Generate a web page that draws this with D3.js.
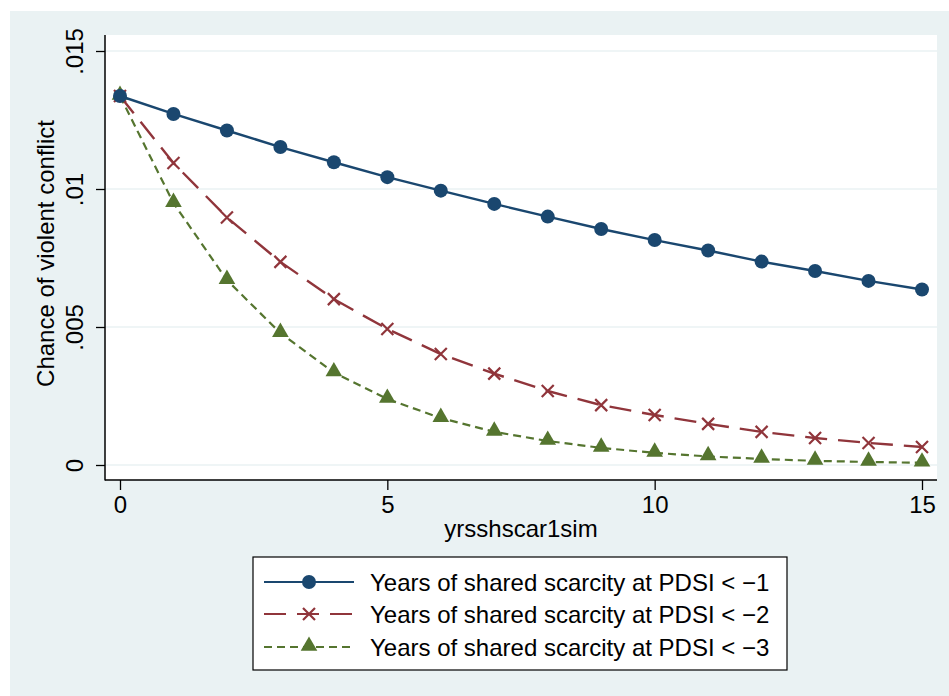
<!DOCTYPE html>
<html>
<head>
<meta charset="utf-8">
<script src="https://cdn.jsdelivr.net/npm/d3@7"></script>
<style>
  html, body { margin: 0; padding: 0; background: #ffffff; }
  svg { display: block; font-family: "Liberation Sans", Arial, sans-serif; }
</style>
</head>
<body>
<svg id="chart" width="949" height="696"></svg>
<script>
// Years of shared scarcity (simulated)
const years = [0, 1, 2, 3, 4, 5, 6, 7, 8, 9, 10, 11, 12, 13, 14, 15];

// Predicted chance of violent conflict, by drought threshold
const pdsi1 = [0.01337, 0.01272, 0.01212, 0.01152, 0.01097, 0.01043, 0.00994, 0.00946,
               0.00900, 0.00855, 0.00815, 0.00777, 0.00737, 0.00703, 0.00667, 0.00636];
const pdsi2 = [0.01337, 0.01094, 0.00897, 0.00736, 0.00601, 0.00493, 0.00402, 0.00331,
               0.00268, 0.00217, 0.00181, 0.00149, 0.00120, 0.00098, 0.00080, 0.00065];
const pdsi3 = [0.01337, 0.00949, 0.00670, 0.00478, 0.00335, 0.00239, 0.00170, 0.00120,
               0.00087, 0.00062, 0.00044, 0.00031, 0.00022, 0.00015, 0.00011, 0.00008];

const seriesLabels = [
  "Years of shared scarcity at PDSI < \u22121",
  "Years of shared scarcity at PDSI < \u22122",
  "Years of shared scarcity at PDSI < \u22123"
];

const xTicks = [0, 5, 10, 15];
const yTicks = [0, 0.005, 0.01, 0.015];
const yTickLabels = ["0", ".005", ".01", ".015"];

const xTitle = "yrsshscar1sim";
const yTitle = "Chance of violent conflict";

const svg = d3.select("#chart");
const W = 949, H = 696;
const FS = 24;

// Graph region background
svg.append("rect").attr("x", 10).attr("y", 11).attr("width", W - 10).attr("height", H - 11)
  .attr("fill", "#eaf2f3");

const plot = { left: 105, right: 937, top: 35, bottom: 480 };

svg.append("rect")
  .attr("x", plot.left).attr("y", plot.top)
  .attr("width", plot.right - plot.left).attr("height", plot.bottom - plot.top)
  .attr("fill", "#ffffff");

const x = d3.scaleLinear().domain([0, 15]).range([120, 922]);
const y = d3.scaleLinear().domain([0, 0.015]).range([465, 51]);

// Horizontal gridlines
svg.append("g").selectAll("line").data(yTicks).join("line")
  .attr("x1", plot.left).attr("x2", plot.right)
  .attr("y1", d => y(d)).attr("y2", d => y(d))
  .attr("stroke", "#eaf2f3").attr("stroke-width", 1.6);

// Y axis
const yAxis = d3.axisLeft(y).tickValues(yTicks)
  .tickFormat((d, i) => yTickLabels[i]).tickSize(9).tickPadding(0);
const gy = svg.append("g").attr("transform", `translate(${plot.left},0)`).call(yAxis);
gy.select(".domain").remove();
gy.append("line").attr("x1", 0).attr("x2", 0).attr("y1", plot.top).attr("y2", plot.bottom + 0.5)
  .attr("stroke", "#000").attr("stroke-width", 1.5);
gy.selectAll(".tick line").attr("stroke", "#000").attr("stroke-width", 1.3);
gy.selectAll(".tick text")
  .attr("x", null).attr("dy", null)
  .attr("transform", "translate(-22,0) rotate(-90)")
  .attr("text-anchor", "middle")
  .attr("fill", "#000").attr("font-size", FS)
  .style("font-family", "'Liberation Sans', Arial, sans-serif");

// X axis
const xAxis = d3.axisBottom(x).tickValues(xTicks).tickFormat(d3.format("d"))
  .tickSize(10).tickPadding(0);
const gx = svg.append("g").attr("transform", `translate(0,${plot.bottom})`).call(xAxis);
gx.select(".domain").remove();
gx.append("line").attr("x1", plot.left).attr("x2", plot.right).attr("y1", 0).attr("y2", 0)
  .attr("stroke", "#000").attr("stroke-width", 1.5);
gx.selectAll(".tick line").attr("stroke", "#000").attr("stroke-width", 1.3);
gx.selectAll(".tick text")
  .attr("y", 33).attr("dy", null)
  .attr("fill", "#000").attr("font-size", FS)
  .style("font-family", "'Liberation Sans', Arial, sans-serif");

// Axis titles
svg.append("text").attr("x", (plot.left + plot.right) / 2).attr("y", 537)
  .attr("text-anchor", "middle").attr("font-size", FS).attr("fill", "#000").text(xTitle);
svg.append("text")
  .attr("transform", `translate(54,${(plot.top + plot.bottom) / 2 - 4}) rotate(-90)`)
  .attr("text-anchor", "middle").attr("font-size", FS).attr("fill", "#000").text(yTitle);

// Series styling
const series = [
  { values: pdsi1, color: "#1a476f", dash: null, width: 2.4, marker: "circle" },
  { values: pdsi2, color: "#90353b", dash: "22,11", width: 2.4, marker: "x" },
  { values: pdsi3, color: "#55752f", dash: "8,5", width: 2.2, marker: "triangle" }
];

const line = d3.line().x(d => x(d[0])).y(d => y(d[1]));

function drawMarker(g, kind, color) {
  if (kind === "circle") {
    g.append("circle").attr("r", 7).attr("fill", color);
  } else if (kind === "x") {
    const s = 6;
    g.append("path").attr("d", `M${-s},${-s}L${s},${s}M${-s},${s}L${s},${-s}`)
      .attr("stroke", color).attr("stroke-width", 2.2).attr("fill", "none");
  } else {
    g.append("path").attr("d", d3.symbol().type(d3.symbolTriangle).size(120)())
      .attr("transform", "translate(0,-1)")
      .attr("fill", color);
  }
}

// Draw from last to first so the first series sits on top
series.slice().reverse().forEach(s => {
  const pts = years.map((yr, i) => [yr, s.values[i]]);
  svg.append("path").datum(pts).attr("d", line)
    .attr("fill", "none").attr("stroke", s.color).attr("stroke-width", s.width)
    .attr("stroke-dasharray", s.dash);
  const mg = svg.append("g");
  pts.forEach(p => {
    const g = mg.append("g").attr("transform", `translate(${x(p[0])},${y(p[1])})`);
    drawMarker(g, s.marker, s.color);
  });
});

// Legend
const legend = svg.append("g");
legend.append("rect").attr("x", 253).attr("y", 557).attr("width", 534).attr("height", 113)
  .attr("fill", "#ffffff").attr("stroke", "#000").attr("stroke-width", 1.2);
const rowY = [582, 614, 647];
series.forEach((s, i) => {
  const ry = rowY[i];
  legend.append("line").attr("x1", 264).attr("x2", 354).attr("y1", ry).attr("y2", ry)
    .attr("stroke", s.color).attr("stroke-width", s.width - 0.4)
    .attr("stroke-dasharray", s.dash);
  const g = legend.append("g").attr("transform", `translate(309,${ry})`);
  drawMarker(g, s.marker, s.color);
  legend.append("text").attr("x", 370).attr("y", ry + 8.5)
    .attr("font-size", FS).attr("fill", "#000").text(seriesLabels[i]);
});
</script>
</body>
</html>
